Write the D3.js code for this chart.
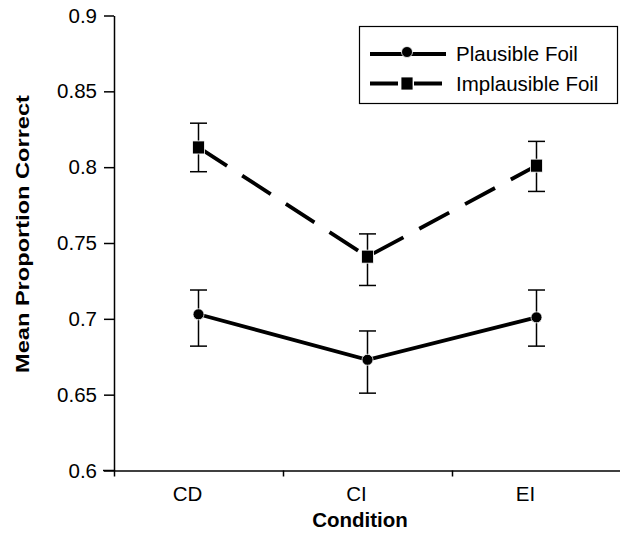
<!DOCTYPE html>
<html lang="en">
<head>
<meta charset="utf-8">
<title>Mean Proportion Correct</title>
<script src="https://cdn.jsdelivr.net/npm/d3@7"></script>
<style>
  body { margin: 0; background: #fff; font-family: "Liberation Sans", Arial, sans-serif; }
  .axis path, .axis line { stroke: #000; stroke-width: 1.5px; }
  .axis text { font-size: 20.5px; fill: #000; font-family: "Liberation Sans", Arial, sans-serif; }
</style>
</head>
<body>
<div id="chart"></div>
<script>
// data
var conditions = ["CD", "CI", "EI"];
var yTicks = [0.6, 0.65, 0.7, 0.75, 0.8, 0.85, 0.9];

var plausibleMean = [0.703, 0.673, 0.701];
var plausibleHi   = [0.719, 0.692, 0.719];
var plausibleLo   = [0.682, 0.651, 0.682];

var implausibleMean = [0.813, 0.741, 0.801];
var implausibleHi   = [0.829, 0.756, 0.817];
var implausibleLo   = [0.797, 0.722, 0.784];

var series = [
  {name: "Plausible Foil", mean: plausibleMean, hi: plausibleHi, lo: plausibleLo, dash: null, marker: "circle"},
  {name: "Implausible Foil", mean: implausibleMean, hi: implausibleHi, lo: implausibleLo, dash: "34,18", marker: "square"}
];

var W = 620, H = 534;
var svg = d3.select("#chart").append("svg")
  .attr("width", W).attr("height", H);

// plot area edges
var plotLeft = 114, plotRight = 621, plotTop = 15.5, plotBottom = 470.5;

// scales
var x = d3.scaleBand().domain(conditions).range([plotLeft, plotRight]).padding(0);
var xEdge = d3.scaleLinear().domain([0, conditions.length]).range([plotLeft, plotRight]);
var y = d3.scaleLinear().domain([0.6, 0.9]).range([plotBottom, plotTop]);

// y axis
svg.append("g")
  .attr("class", "axis")
  .attr("transform", "translate(" + plotLeft + ",0)")
  .call(d3.axisLeft(y).tickValues(yTicks).tickSize(10).tickSizeOuter(0).tickPadding(7)
        .tickFormat(function(d) { return String(+d.toFixed(2)); }));

// x axis (ticks at category boundaries)
var xg = svg.append("g")
  .attr("class", "axis")
  .attr("transform", "translate(0," + plotBottom + ")")
  .call(d3.axisBottom(xEdge).tickValues(d3.range(conditions.length + 1)).tickSize(6).tickSizeOuter(0).tickFormat(""));
xg.append("line").attr("x1", 103).attr("x2", plotLeft).attr("y1", 0).attr("y2", 0)
  .attr("stroke", "#000").attr("stroke-width", 1.5);

// x labels
svg.append("g").selectAll("text")
  .data(conditions).enter().append("text")
  .attr("x", function(d) { return x(d) + x.bandwidth() / 2 - 11; })
  .attr("y", 501)
  .attr("text-anchor", "middle")
  .style("font-size", "20.5px")
  .text(function(d) { return d; });

// axis titles
svg.append("text")
  .attr("x", 360).attr("y", 527)
  .attr("text-anchor", "middle")
  .style("font-size", "20.5px").style("font-weight", "bold")
  .text("Condition");

svg.append("text")
  .attr("transform", "translate(29,234) rotate(-90)")
  .attr("text-anchor", "middle")
  .attr("textLength", 278).attr("lengthAdjust", "spacingAndGlyphs")
  .style("font-size", "18px").style("font-weight", "bold")
  .text("Mean Proportion Correct");

var line = d3.line()
  .x(function(d, i) { return x(conditions[i]) + x.bandwidth() / 2; })
  .y(function(d) { return y(d); });

function drawMarker(g, type, cx, cy) {
  if (type === "circle") {
    g.append("circle").attr("cx", cx).attr("cy", cy).attr("r", 5.5)
      .attr("fill", "#000").attr("stroke", "#fff").attr("stroke-width", 0.8);
  } else {
    g.append("rect").attr("x", cx - 6).attr("y", cy - 6.5).attr("width", 12).attr("height", 13)
      .attr("fill", "#000").attr("stroke", "#fff").attr("stroke-width", 0.8);
  }
}

series.forEach(function(s) {
  var g = svg.append("g");
  var cap = 8.5;
  // error bars
  conditions.forEach(function(c, i) {
    var cx = x(c) + x.bandwidth() / 2;
    g.append("line").attr("x1", cx).attr("x2", cx).attr("y1", y(s.hi[i])).attr("y2", y(s.lo[i]))
      .attr("stroke", "#000").attr("stroke-width", 1.5);
    g.append("line").attr("x1", cx - cap).attr("x2", cx + cap).attr("y1", y(s.hi[i])).attr("y2", y(s.hi[i]))
      .attr("stroke", "#000").attr("stroke-width", 1.5);
    g.append("line").attr("x1", cx - cap).attr("x2", cx + cap).attr("y1", y(s.lo[i])).attr("y2", y(s.lo[i]))
      .attr("stroke", "#000").attr("stroke-width", 1.5);
  });
  // line
  g.append("path")
    .datum(s.mean)
    .attr("d", line)
    .attr("fill", "none")
    .attr("stroke", "#000")
    .attr("stroke-width", 3.8)
    .attr("stroke-dasharray", s.dash);
  // markers
  s.mean.forEach(function(v, i) {
    drawMarker(g, s.marker, x(conditions[i]) + x.bandwidth() / 2, y(v));
  });
});

// legend
var legend = svg.append("g");
legend.append("rect")
  .attr("x", 359.5).attr("y", 26.5).attr("width", 258).attr("height", 77)
  .attr("fill", "#fff").attr("stroke", "#000").attr("stroke-width", 1.2);

series.forEach(function(s, i) {
  var ly = 54 + i * 29.5;
  legend.append("line")
    .attr("x1", 370).attr("x2", s.dash ? 443 : 446).attr("y1", ly).attr("y2", ly)
    .attr("stroke", "#000").attr("stroke-width", 3.8)
    .attr("stroke-dasharray", s.dash ? "28,16" : null);
  drawMarker(legend, s.marker, 407, ly - (s.marker === "circle" ? 2 : 0));
  legend.append("text")
    .attr("x", 456).attr("y", ly + 7)
    .style("font-size", "20.5px")
    .text(s.name);
});
</script>
</body>
</html>
